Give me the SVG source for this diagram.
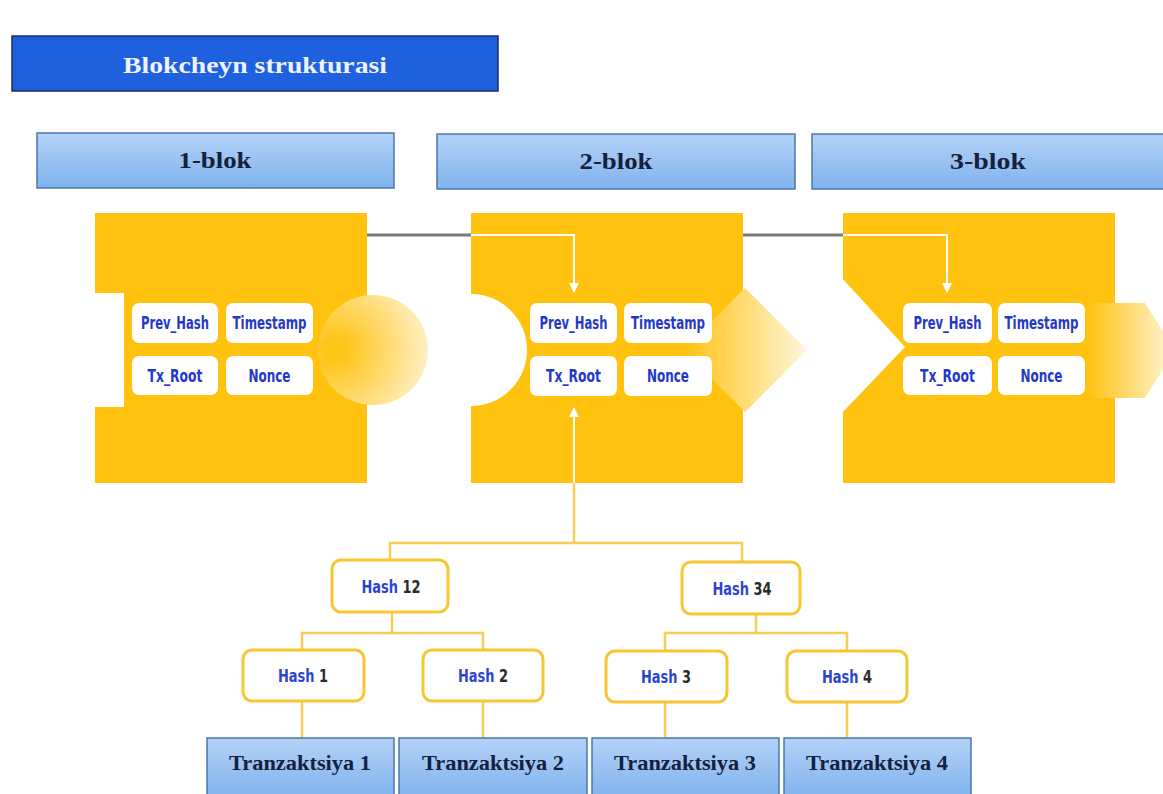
<svg xmlns="http://www.w3.org/2000/svg" width="1163" height="794" viewBox="0 0 1163 794">
<defs>
<linearGradient id="hdr" x1="0" y1="0" x2="0" y2="1"><stop offset="0" stop-color="#b4d2f6"/><stop offset="1" stop-color="#7fb2ee"/></linearGradient>
<linearGradient id="fadeR" x1="0" y1="0" x2="1" y2="0"><stop offset="0" stop-color="#ffc20e"/><stop offset="1" stop-color="#fff6dc"/></linearGradient>
<radialGradient id="circ" cx="0.15" cy="0.5" r="0.95"><stop offset="0.1" stop-color="#ffc418"/><stop offset="1" stop-color="#fff5d8"/></radialGradient>
<marker id="ah" viewBox="0 0 10 10" refX="9" refY="5" markerWidth="5" markerHeight="5" orient="auto"><path d="M0,0 L10,5 L0,10 z" fill="#ffffff"/></marker>
<style>
.hdr{fill:url(#hdr);stroke:#4a78aa;stroke-width:1.5}
.blk{fill:#ffc20e}
.cell{fill:#ffffff}
.ct{font-family:"DejaVu Sans Condensed","DejaVu Sans",sans-serif;font-weight:bold;font-size:17px;fill:#2438c8;text-anchor:middle}
.ht{font-family:"DejaVu Sans Condensed","DejaVu Sans",sans-serif;font-weight:bold;font-size:18px;text-anchor:middle}
.hb{fill:#2a44d0}
.hn{fill:#2a2a2a}
.sf{font-family:"Liberation Serif",serif;font-weight:bold;text-anchor:middle;fill:#16203a}
.hbox{fill:#ffffff;stroke:#f8c631;stroke-width:3}
.tl{fill:none;stroke:#f6cd55;stroke-width:2.5}
.gl{fill:none;stroke:#7a7a7a;stroke-width:3}
.wl{fill:none;stroke:#ffffff;stroke-width:2}
</style>
</defs>
<rect width="1163" height="794" fill="#ffffff"/>

<g id="title">
<rect x="12" y="36" width="486" height="55" fill="#1f60df" stroke="#1b2d66" stroke-width="1.5"/>
<text x="255" y="73" font-family="Liberation Serif,serif" font-weight="bold" font-size="23" fill="#eef3ff" text-anchor="middle" textLength="264" lengthAdjust="spacingAndGlyphs">Blokcheyn strukturasi</text>
</g>

<g id="header1"><rect class="hdr" x="37" y="133" width="357" height="55"/><text class="sf" x="215" y="168" font-size="23" textLength="73" lengthAdjust="spacingAndGlyphs">1-blok</text></g>
<g id="header2"><rect class="hdr" x="437" y="134" width="358" height="55"/><text class="sf" x="616" y="169" font-size="23" textLength="73" lengthAdjust="spacingAndGlyphs">2-blok</text></g>
<g id="header3"><rect class="hdr" x="812" y="134" width="352" height="55"/><text class="sf" x="988" y="169" font-size="23" textLength="76" lengthAdjust="spacingAndGlyphs">3-blok</text></g>

<g id="block1">
<rect class="blk" x="95" y="213" width="272" height="270"/>
<rect x="94" y="293" width="30" height="114" fill="#ffffff"/>
<circle cx="373" cy="350" r="55" fill="url(#circ)"/>
<rect class="cell" x="132" y="303" width="86" height="40" rx="7"/>
<rect class="cell" x="226" y="303" width="87" height="40" rx="7"/>
<rect class="cell" x="132" y="356" width="86" height="39" rx="7"/>
<rect class="cell" x="226" y="356" width="87" height="39" rx="7"/>
<text class="ct" x="175" y="329" textLength="68" lengthAdjust="spacingAndGlyphs">Prev_Hash</text>
<text class="ct" x="269.5" y="329" textLength="74" lengthAdjust="spacingAndGlyphs">Timestamp</text>
<text class="ct" x="175" y="382" textLength="55" lengthAdjust="spacingAndGlyphs">Tx_Root</text>
<text class="ct" x="269.5" y="382" textLength="42" lengthAdjust="spacingAndGlyphs">Nonce</text>
</g>

<g id="block2">
<rect class="blk" x="471" y="213" width="272" height="270"/>
<path d="M471,294 A56,56 0 0 1 471,406 Z" fill="#ffffff"/>
<polygon points="745,288 807,350 745,412 683,350" fill="url(#fadeR)"/>
<rect class="cell" x="530" y="303" width="87" height="40" rx="7"/>
<rect class="cell" x="624" y="303" width="88" height="40" rx="7"/>
<rect class="cell" x="530" y="356" width="87" height="40" rx="7"/>
<rect class="cell" x="624" y="356" width="88" height="40" rx="7"/>
<text class="ct" x="573.5" y="329" textLength="68" lengthAdjust="spacingAndGlyphs">Prev_Hash</text>
<text class="ct" x="668" y="329" textLength="74" lengthAdjust="spacingAndGlyphs">Timestamp</text>
<text class="ct" x="573.5" y="382" textLength="55" lengthAdjust="spacingAndGlyphs">Tx_Root</text>
<text class="ct" x="668" y="382" textLength="42" lengthAdjust="spacingAndGlyphs">Nonce</text>
</g>

<g id="block3">
<rect class="blk" x="843" y="213" width="272" height="270"/>
<polygon points="842,278 905,347 842,413" fill="#ffffff"/>
<polygon points="1087,303 1145,303 1175,350 1145,398 1087,398" fill="url(#fadeR)"/>
<rect class="cell" x="903" y="303" width="89" height="40" rx="7"/>
<rect class="cell" x="998" y="303" width="87" height="40" rx="7"/>
<rect class="cell" x="903" y="356" width="89" height="39" rx="7"/>
<rect class="cell" x="998" y="356" width="87" height="39" rx="7"/>
<text class="ct" x="947.5" y="329" textLength="68" lengthAdjust="spacingAndGlyphs">Prev_Hash</text>
<text class="ct" x="1041.5" y="329" textLength="74" lengthAdjust="spacingAndGlyphs">Timestamp</text>
<text class="ct" x="947.5" y="382" textLength="55" lengthAdjust="spacingAndGlyphs">Tx_Root</text>
<text class="ct" x="1041.5" y="382" textLength="42" lengthAdjust="spacingAndGlyphs">Nonce</text>
</g>

<g id="connectors">
<line class="gl" x1="367" y1="235" x2="471" y2="235"/>
<polyline class="wl" points="471,235 574,235 574,292" marker-end="url(#ah)"/>
<line class="gl" x1="743" y1="235" x2="843" y2="235"/>
<polyline class="wl" points="843,235 947,235 947,292" marker-end="url(#ah)"/>
<line class="tl" x1="574" y1="543" x2="574" y2="483"/>
<line class="wl" x1="574" y1="483" x2="574" y2="408" marker-end="url(#ah)"/>
<polyline class="tl" points="390,560 390,543 742,543 742,562"/>
<line class="tl" x1="392" y1="612" x2="392" y2="633"/>
<polyline class="tl" points="302,650 302,633 483,633 483,650"/>
<line class="tl" x1="756" y1="614" x2="756" y2="633"/>
<polyline class="tl" points="665,650 665,633 847,633 847,650"/>
<line class="tl" x1="302" y1="701" x2="302" y2="738"/>
<line class="tl" x1="483" y1="701" x2="483" y2="738"/>
<line class="tl" x1="665" y1="702" x2="665" y2="738"/>
<line class="tl" x1="847" y1="702" x2="847" y2="738"/>
</g>

<g id="hash12"><rect class="hbox" x="332" y="560" width="116" height="52" rx="9"/><text class="ht" transform="translate(391,593) scale(0.8,1)"><tspan class="hb">Hash</tspan><tspan class="hn"> 12</tspan></text></g>
<g id="hash34"><rect class="hbox" x="682" y="562" width="118" height="52" rx="9"/><text class="ht" transform="translate(742,595) scale(0.8,1)"><tspan class="hb">Hash</tspan><tspan class="hn"> 34</tspan></text></g>
<g id="hash1"><rect class="hbox" x="243" y="650" width="121" height="51" rx="9"/><text class="ht" transform="translate(303,682) scale(0.8,1)"><tspan class="hb">Hash</tspan><tspan class="hn"> 1</tspan></text></g>
<g id="hash2"><rect class="hbox" x="423" y="650" width="120" height="51" rx="9"/><text class="ht" transform="translate(483,682) scale(0.8,1)"><tspan class="hb">Hash</tspan><tspan class="hn"> 2</tspan></text></g>
<g id="hash3"><rect class="hbox" x="606" y="651" width="121" height="51" rx="9"/><text class="ht" transform="translate(666,683) scale(0.8,1)"><tspan class="hb">Hash</tspan><tspan class="hn"> 3</tspan></text></g>
<g id="hash4"><rect class="hbox" x="787" y="651" width="120" height="51" rx="9"/><text class="ht" transform="translate(847,683) scale(0.8,1)"><tspan class="hb">Hash</tspan><tspan class="hn"> 4</tspan></text></g>

<g id="tx1"><rect class="hdr" x="207" y="738" width="187" height="60"/><text class="sf" x="300" y="770" font-size="20" textLength="142" lengthAdjust="spacingAndGlyphs">Tranzaktsiya 1</text></g>
<g id="tx2"><rect class="hdr" x="399" y="738" width="188" height="60"/><text class="sf" x="493" y="770" font-size="20" textLength="142" lengthAdjust="spacingAndGlyphs">Tranzaktsiya 2</text></g>
<g id="tx3"><rect class="hdr" x="592" y="738" width="187" height="60"/><text class="sf" x="685" y="770" font-size="20" textLength="142" lengthAdjust="spacingAndGlyphs">Tranzaktsiya 3</text></g>
<g id="tx4"><rect class="hdr" x="784" y="738" width="187" height="60"/><text class="sf" x="877" y="770" font-size="20" textLength="142" lengthAdjust="spacingAndGlyphs">Tranzaktsiya 4</text></g>
</svg>
